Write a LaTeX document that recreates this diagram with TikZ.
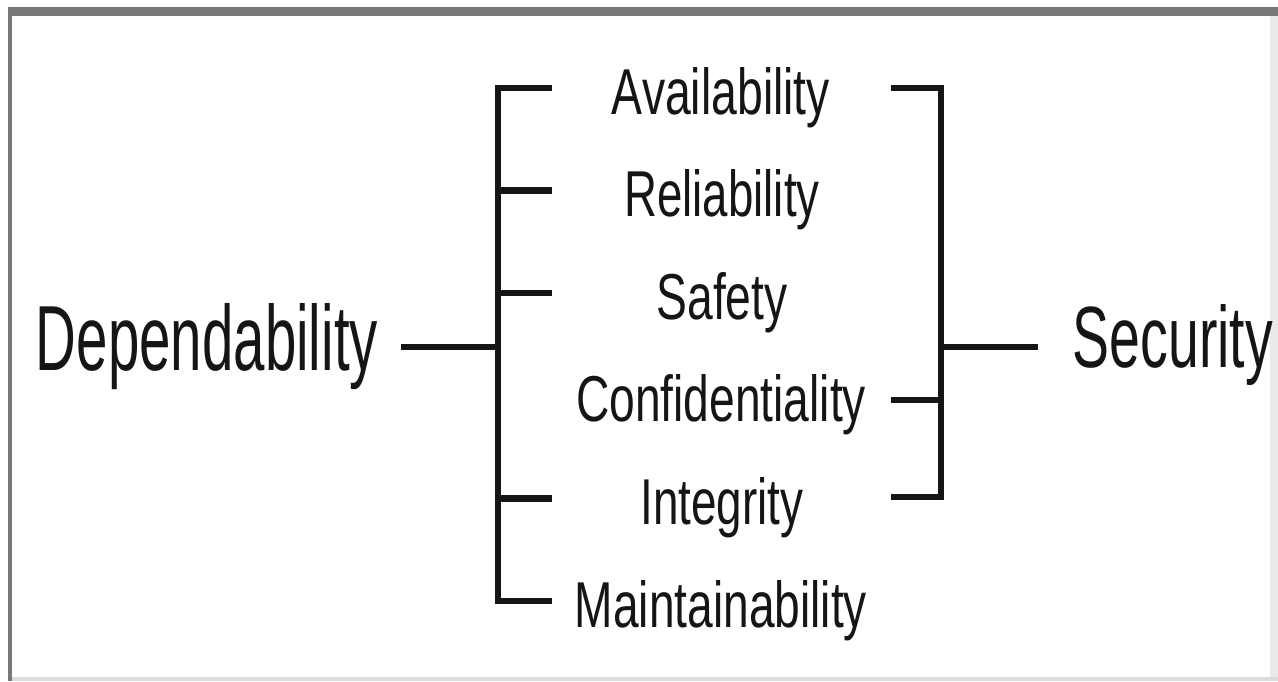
\documentclass[tikz,border=0pt]{standalone}
\usepackage{fontspec}
\usepackage{graphicx}
\setmainfont{Liberation Sans}
\definecolor{frameDark}{HTML}{777777}
\definecolor{frameLight}{HTML}{DCDCDC}
\definecolor{ink}{HTML}{151515}
\newcommand{\fitlbl}[3]{\resizebox{#1pt}{#2pt}{#3}}
\tikzset{
  lbl/.style={inner sep=0pt, anchor=base, text=ink},
  wire/.style={draw=ink, line width=6.5pt},
}
\begin{document}
\begin{tikzpicture}[x=1pt,y=-1pt]
\useasboundingbox (0,0) rectangle (1278,681);
% frame
\fill[frameDark] (8,7) rectangle (1278,16);
\fill[frameDark] (8,7) rectangle (12,681);
\fill[frameLight] (12,677) rectangle (1278,681);
\fill[frameLight!60] (1270,16) rectangle (1278,677);
% labels
\node[lbl] (dep) at (207,370) {\fitlbl{342}{67}{Dependability}};
\node[lbl] (sec) at (1173,367) {\fitlbl{200}{63}{Security}};
\node[lbl] (ava) at (721,114) {\fitlbl{218}{47}{Availability}};
\node[lbl] (rel) at (722,216.6) {\fitlbl{195}{47}{Reliability}};
\node[lbl] (saf) at (722,319.2) {\fitlbl{131}{47}{Safety}};
\node[lbl] (con) at (721,421.8) {\fitlbl{290}{47}{Confidentiality}};
\node[lbl] (int) at (722,524.4) {\fitlbl{163}{47}{Integrity}};
\node[lbl] (mai) at (721,627) {\fitlbl{292}{47}{Maintainability}};
% bracket coordinates
\coordinate (la) at (498,88);   \coordinate (lat) at (552,88);
\coordinate (lr) at (498,190.6);\coordinate (lrt) at (552,190.6);
\coordinate (ls) at (498,293.2);\coordinate (lst) at (552,293.2);
\coordinate (li) at (498,498.4);\coordinate (lit) at (552,498.4);
\coordinate (lm) at (498,601);  \coordinate (lmt) at (552,601);
\coordinate (ld) at (498,347);  \coordinate (ldt) at (401,347);
\coordinate (ra) at (941,88);   \coordinate (rat) at (891,88);
\coordinate (rc) at (941,400);  \coordinate (rct) at (891,400);
\coordinate (ri) at (941,497);  \coordinate (rit) at (891,497);
\coordinate (rs) at (941,347);  \coordinate (rst) at (1038,347);
% left bracket
\draw[wire] (lat) -- (la) -- (lm) -- (lmt);
\draw[wire] (lr) -- (lrt);
\draw[wire] (ls) -- (lst);
\draw[wire] (li) -- (lit);
\draw[wire] (ldt) -- (ld);
% right bracket
\draw[wire] (rat) -- (ra) -- (ri) -- (rit);
\draw[wire] (rct) -- (rc);
\draw[wire] (rs) -- (rst);
\end{tikzpicture}
\end{document}
